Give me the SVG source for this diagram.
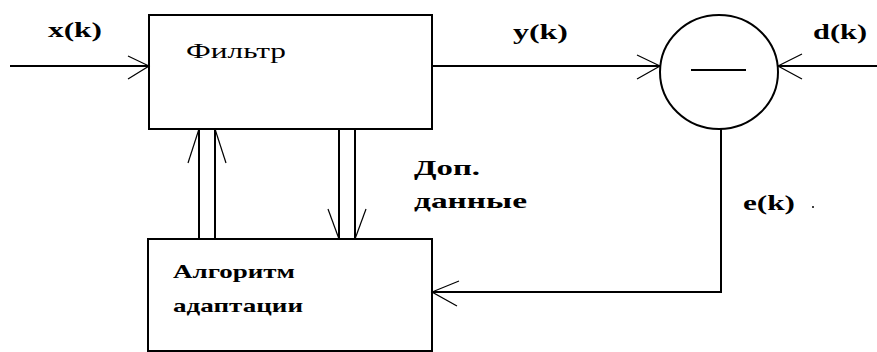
<svg xmlns="http://www.w3.org/2000/svg" width="877" height="352" viewBox="0 0 877 352">
<style>
.ln{stroke:#000;stroke-width:2;fill:none}
.ah{stroke:#000;stroke-width:1.2;fill:none}
.t{fill:#000}
.b{font-weight:bold}
</style>
<rect width="877" height="352" fill="#fff"/>
<g id="connectors">
<line class="ln" x1="10" y1="66" x2="149" y2="66"/>
<polyline class="ah" points="128,56 149,66 128,79"/>
<line class="ln" x1="432" y1="66" x2="660" y2="66"/>
<polyline class="ah" points="637,55 660,66 637,79"/>
<line class="ln" x1="778" y1="66" x2="877" y2="66"/>
<polyline class="ah" points="802,54 778,66 802,79"/>
<polyline class="ln" points="721,129 721,292 432,292"/>
<polyline class="ah" points="459,281 432,292 457,306"/>
<line class="ln" x1="199" y1="129" x2="199" y2="239"/>
<line class="ln" x1="215" y1="129" x2="215" y2="239"/>
<polyline class="ah" points="188,163 199,129"/>
<polyline class="ah" points="226,163 215,129"/>
<line class="ln" x1="339" y1="129" x2="339" y2="239"/>
<line class="ln" x1="355" y1="129" x2="355" y2="239"/>
<polyline class="ah" points="328,209 339,239"/>
<polyline class="ah" points="366,209 355,239"/>
</g>
<g font-family="Liberation Serif, serif">
<g id="filter">
<rect class="ln" x="149" y="15" width="283" height="114"/>
<text class="t" x="186" y="58" font-size="22" textLength="100" lengthAdjust="spacingAndGlyphs">Фильтр</text>
</g>
<g id="adaptation">
<rect class="ln" x="148" y="239" width="284" height="112"/>
<text class="t b" x="173" y="278" font-size="19" textLength="122" lengthAdjust="spacingAndGlyphs">Алгоритм</text>
<text class="t b" x="173" y="312" font-size="19" textLength="130" lengthAdjust="spacingAndGlyphs">адаптации</text>
</g>
<g id="subtractor">
<ellipse class="ln" cx="719" cy="72" rx="59" ry="57" stroke-width="1.5"/>
<line class="ln" x1="691" y1="70" x2="746" y2="70"/>
</g>
<g id="labels">
<text class="t b" x="48" y="37" font-size="22" textLength="54" lengthAdjust="spacingAndGlyphs">x(k)</text>
<text class="t b" x="513" y="39" font-size="22" textLength="55" lengthAdjust="spacingAndGlyphs">y(k)</text>
<text class="t b" x="813" y="39" font-size="22" textLength="54" lengthAdjust="spacingAndGlyphs">d(k)</text>
<text class="t b" x="414" y="175" font-size="22" textLength="66" lengthAdjust="spacingAndGlyphs">Доп.</text>
<text class="t b" x="414" y="208" font-size="22" textLength="113" lengthAdjust="spacingAndGlyphs">данные</text>
<text class="t b" x="743" y="210" font-size="22" textLength="52" lengthAdjust="spacingAndGlyphs">e(k)</text>
<circle cx="813" cy="207" r="1" fill="#000"/>
</g>
</g>
</svg>
